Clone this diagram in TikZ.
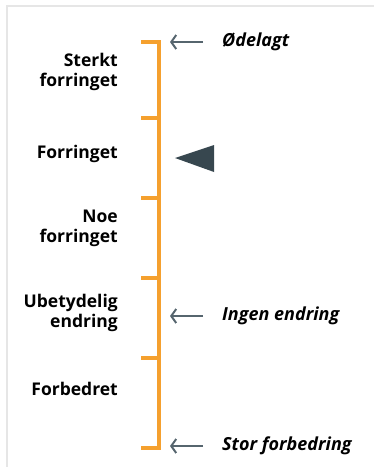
\documentclass[tikz,border=0pt]{standalone}
\usepackage{fontspec}
\setmainfont{Open Sans}
\usetikzlibrary{arrows.meta}

\definecolor{scaleorange}{HTML}{F5A02E}
\definecolor{arrowgrey}{HTML}{56656E}
\definecolor{markerdark}{HTML}{37474F}
\definecolor{framegrey}{HTML}{E6E6E6}

\begin{document}
\begin{tikzpicture}[x=1pt,y=-1pt,
    level/.style={font=\bfseries\fontsize{17.5}{20}\selectfont, align=right, anchor=east, inner sep=0pt},
    note/.style={font=\bfseries\itshape\fontsize{18}{20}\selectfont, anchor=west, inner sep=0pt},
    pointer/.style={arrowgrey, line width=2pt, -{Straight Barb[length=5pt,width=14pt]}, shorten <=19pt, shorten >=11pt}]
    \useasboundingbox (0,0) rectangle (374,467);
    \draw[framegrey, line width=2pt] (7,467) -- (7,6) -- (374,6);

    % the scale
    \draw[scaleorange, line width=3.2pt] (141,42) -- (159,42) -- (159,448) -- (141,448);
    \foreach \y [count=\i] in {42,118,198,278,358,448}{
        \draw[scaleorange, line width=3.2pt] (141,\y) -- (159,\y);
        \coordinate (t\i) at (159,\y);
    }

    % levels
    \node[level] (sterkt) at (118,72) {Sterkt\\forringet};
    \node[level] (forringet) at (118,154) {Forringet};
    \node[level] (noe) at (118,228) {Noe\\forringet};
    \node[level] (ubetydelig) at (118,313) {Ubetydelig\\endring};
    \node[level] (forbedret) at (118,389) {Forbedret};

    % marker
    \fill[markerdark] (175,158) -- (214,145) -- (214,172) -- cycle;

    % notes
    \node[note] (odelagt) at (222,42) {Ødelagt};
    \node[note] (ingen) at (222,316) {Ingen endring};
    \node[note] (stor) at (222,446) {Stor forbedring};

    \draw[pointer] (odelagt.west) -- (odelagt.west -| t1);
    \draw[pointer] (ingen.west) -- (ingen.west -| t1);
    \draw[pointer] (stor.west) -- (stor.west -| t1);
\end{tikzpicture}
\end{document}
